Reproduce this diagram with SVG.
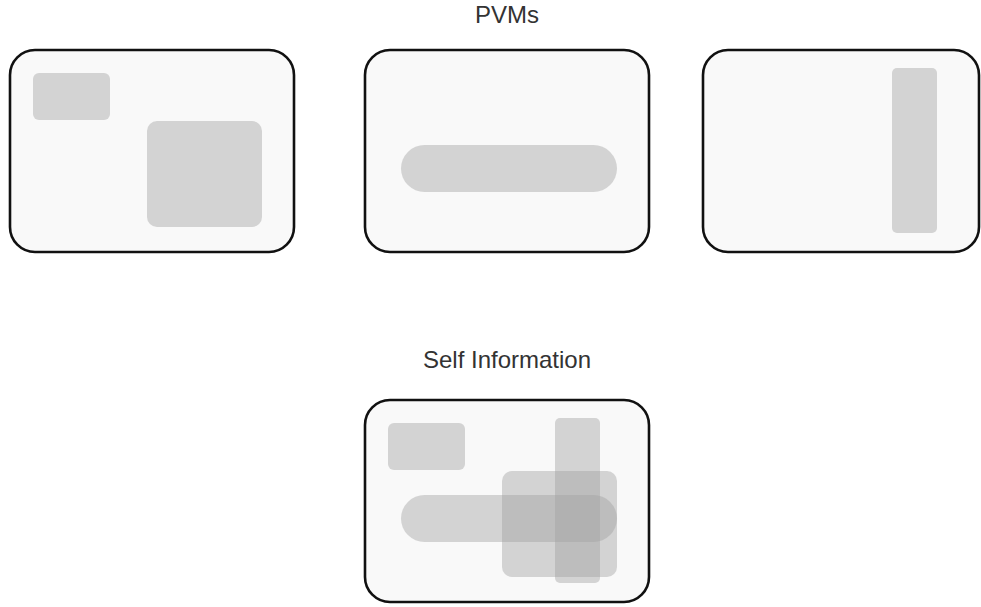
<svg xmlns="http://www.w3.org/2000/svg" width="981" height="607" viewBox="0 0 981 607">
<style>
.frame{fill:#f9f9f9;stroke:#111;stroke-width:2.6}
.blob{fill:#a0a0a0;fill-opacity:0.42}
.label{font-family:"Liberation Sans",Arial,sans-serif;font-size:24px;fill:#333;text-anchor:middle}
</style>
<rect width="981" height="607" fill="#ffffff"/>
<text class="label" x="507" y="23">PVMs</text>
<g id="pvm1">
<rect class="frame" x="10" y="50" width="284" height="202" rx="25"/>
<rect class="blob" x="33" y="73" width="77" height="47" rx="6"/>
<rect class="blob" x="147" y="121" width="115" height="106" rx="10"/>
</g>
<g id="pvm2">
<rect class="frame" x="365" y="50" width="284" height="202" rx="25"/>
<rect class="blob" x="401" y="145" width="216" height="47" rx="23.5"/>
</g>
<g id="pvm3">
<rect class="frame" x="703" y="50" width="276" height="202" rx="25"/>
<rect class="blob" x="892" y="68" width="45" height="165" rx="5"/>
</g>
<text class="label" x="507" y="368">Self Information</text>
<g id="self">
<rect class="frame" x="365" y="400" width="284" height="202" rx="25"/>
<rect class="blob" x="388" y="423" width="77" height="47" rx="6"/>
<rect class="blob" x="502" y="471" width="115" height="106" rx="10"/>
<rect class="blob" x="401" y="495" width="216" height="47" rx="23.5"/>
<rect class="blob" x="555" y="418" width="45" height="165" rx="5"/>
</g>
<g id="connectors"></g>
</svg>
